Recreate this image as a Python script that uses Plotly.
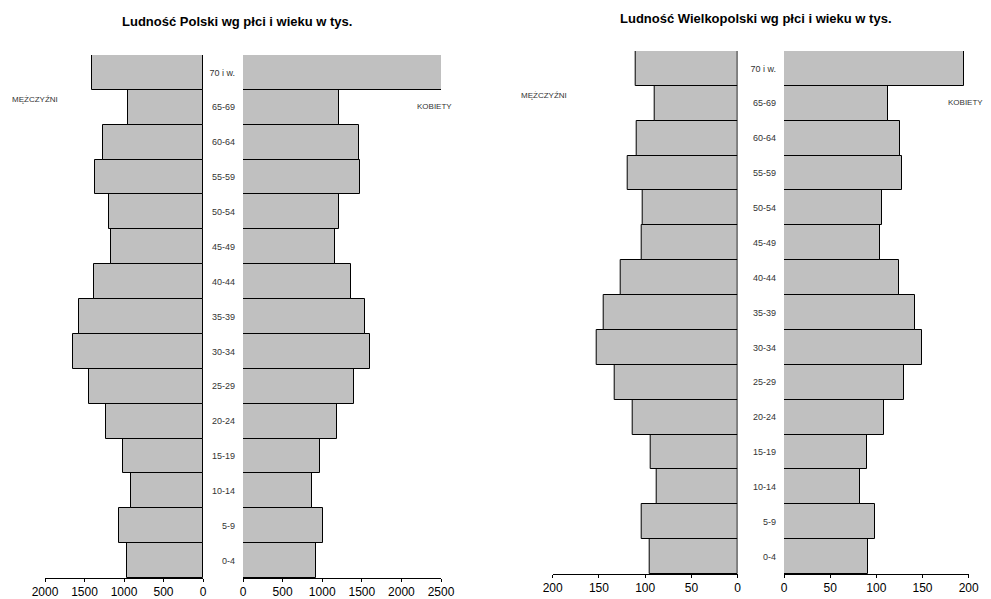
import plotly.graph_objects as go

# grupy wieku (od najmłodszej)
wiek = ["0-4", "5-9", "10-14", "15-19", "20-24", "25-29", "30-34", "35-39",
        "40-44", "45-49", "50-54", "55-59", "60-64", "65-69", "70 i w."]

# Polska, tys.
pl_m = [966, 1059, 915, 1009, 1228, 1439, 1646, 1570, 1376, 1168, 1190, 1367, 1270, 949, 1405]
pl_k = [920, 1009, 877, 966, 1186, 1397, 1603, 1536, 1358, 1165, 1215, 1473, 1460, 1207, 2520]

# Wielkopolska, tys.
wlkp_m = [95.5, 104, 88, 94, 113, 133, 152, 145, 126, 104, 103, 118.5, 109, 90, 110]
wlkp_k = [90.7, 98, 82.8, 89.6, 108.3, 130, 149, 141.5, 124.5, 104, 106.6, 127.8, 125.6, 112.6, 195]

tyt_pl = "Ludność Polski wg płci i wieku w tys."
tyt_wlkp = "Ludność Wielkopolski wg płci i wieku w tys."

# strona ma margines 8 px z lewej i z góry
OFF = 8
FW, FH = 991 - OFF, 599 - OFF
FONT = "Liberation Sans, Arial, sans-serif"
bar_style = dict(marker=dict(color="#c0c0c0", line=dict(color="black", width=1)),
                 orientation="h", showlegend=False, hoverinfo="x+y")

fig = go.Figure()
fig.add_trace(go.Bar(x=pl_m, y=wiek, xaxis="x", yaxis="y", **bar_style))
fig.add_trace(go.Bar(x=pl_k, y=wiek, xaxis="x2", yaxis="y2", **bar_style))
fig.add_trace(go.Bar(x=wlkp_m, y=wiek, xaxis="x3", yaxis="y3", **bar_style))
fig.add_trace(go.Bar(x=wlkp_k, y=wiek, xaxis="x4", yaxis="y4", **bar_style))


def px_x(a, b):
    return [(a - OFF) / FW, (b - OFF) / FW]


def px_y(top, bottom):
    return [1 - (bottom - OFF) / FH, 1 - (top - OFF) / FH]


xbase = dict(showline=True, linecolor="black", linewidth=1, ticks="outside",
             ticklen=3, tickcolor="black", showgrid=False, zeroline=False,
             automargin=False,
             tickfont=dict(size=12, color="black", family=FONT), fixedrange=True)
yhide = dict(showticklabels=False, showgrid=False, zeroline=False, ticks="",
             showline=False, automargin=False, fixedrange=True)
ylab = dict(showgrid=False, zeroline=False, ticks="", showline=False,
            automargin=False,
            tickfont=dict(size=9, color="#333", family=FONT),
            ticklabelstandoff=7, fixedrange=True)

dom_pl = px_y(55, 578)
dom_w = px_y(51, 574)

fig.update_layout(
    template="none",
    width=FW, height=FH,
    margin=dict(l=0, r=0, t=0, b=0, pad=0),
    paper_bgcolor="white", plot_bgcolor="white",
    bargap=0,
    font=dict(family=FONT),
    xaxis=dict(domain=px_x(45, 203), range=[2000, 0], anchor="y",
               tickvals=[0, 500, 1000, 1500, 2000], **xbase),
    xaxis2=dict(domain=px_x(243, 441), range=[0, 2500], anchor="y2",
                tickvals=[0, 500, 1000, 1500, 2000, 2500], **xbase),
    xaxis3=dict(domain=px_x(552.7, 737.7), range=[200, 0], anchor="y3",
                tickvals=[0, 50, 100, 150, 200], **xbase),
    xaxis4=dict(domain=px_x(784, 968.7), range=[0, 200], anchor="y4",
                tickvals=[0, 50, 100, 150, 200], **xbase),
    yaxis=dict(domain=dom_pl, anchor="x", **yhide),
    yaxis2=dict(domain=dom_pl, anchor="x2", **ylab),
    yaxis3=dict(domain=dom_w, anchor="x3", **yhide),
    yaxis4=dict(domain=dom_w, anchor="x4", **ylab),
)

ann = [
    (tyt_pl, 237, 21, 13, True),
    (tyt_wlkp, 756, 18, 13, True),
    ("MĘŻCZYŹNI", 34.5, 100, 8, False),
    ("KOBIETY", 434, 107, 8, False),
    ("MĘŻCZYŹNI", 544, 95, 8, False),
    ("KOBIETY", 965, 103, 8, False),
]
for txt, x, y, size, bold in ann:
    fig.add_annotation(
        text=f"<b>{txt}</b>" if bold else txt,
        x=(x - OFF) / FW, y=1 - (y - OFF) / FH, xref="paper", yref="paper",
        showarrow=False, xanchor="center", yanchor="middle",
        font=dict(size=size, color="black" if bold else "#333", family=FONT),
    )

fig.write_html("out.html")
